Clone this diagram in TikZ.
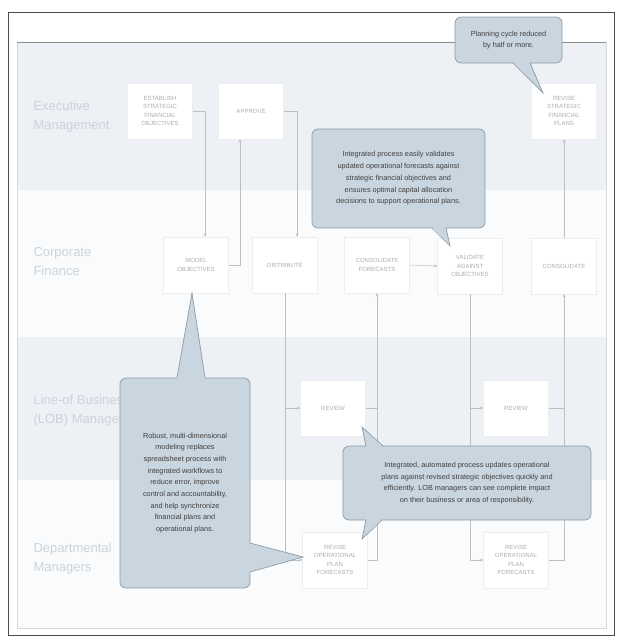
\documentclass[tikz,border=0pt]{standalone}
\usepackage{fontspec}
\setmainfont{Liberation Sans}
\usetikzlibrary{arrows.meta, positioning}
\definecolor{boblefarge}{HTML}{C9D5DF}
\definecolor{bobleramme}{HTML}{8C9BA6}
\definecolor{feltblaa}{HTML}{EDF0F5}
\definecolor{felthvit}{HTML}{FAFBFC}
\definecolor{feltskrift}{HTML}{CDD3DA}

\begin{document}
\begin{tikzpicture}[
    x=1pt, y=-1pt,
    punkt/.style = {rectangle, fill=white, draw=black!7, minimum width=65pt,
                    minimum height=56pt, inner sep=1pt, align=center,
                    text=black!32, font=\fontsize{6}{8.6}\selectfont},
    linje/.style = {draw=black!25, line width=0.5pt},
    pil/.style = {linje, -{Stealth[length=3.5pt, width=3pt]}},
    boble/.style = {rectangle, rounded corners=6pt, fill=boblefarge,
                    draw=bobleramme, line width=0.7pt, align=center,
                    text=black!75, inner sep=0pt,
                    font=\fontsize{7.3}{11.7}\selectfont},
    hale/.style = {draw=bobleramme, line width=0.7pt},
    felt/.style = {anchor=west, align=left, text=feltskrift,
                   font=\fontsize{13}{19}\selectfont}
    ]
  \useasboundingbox (0,0) rectangle (617,637);

  % lanes
  \fill[felthvit] (17,42) rectangle (606,628);
  \fill[feltblaa] (17,42) rectangle (606,190);
  \fill[feltblaa] (17,337) rectangle (606,480);
  \draw[black!15] (17,42) rectangle (606,628);
  \draw[black!45, line width=0.8pt] (17,42) -- (606,42);
  \draw[black!70, line width=1pt] (8,12) rectangle (614,635);

  \node[felt] (exec) at (30,117) {Executive\\Management} ;
  \node[felt] (corp) at (30,262) {Corporate\\Finance} ;
  \node[felt] (lob)  at (30,411) {Line-of Business\\(LOB) Managers} ;
  \node[felt] (dept) at (30,559) {Departmental\\Managers} ;

  % steps
  \node[punkt] (establish) at (160,111) {ESTABLISH\\STRATEGIC\\FINANCIAL\\OBJECTIVES} ;
  \node[punkt] (approve) at (251,111) {APPROVE} ;
  \node[punkt] (revise) at (564,111) {REVISE\\STRATEGIC\\FINANCIAL\\PLANS} ;

  \node[punkt] (model) at (196,265) {MODEL\\OBJECTIVES} ;
  \node[punkt] (distribute) at (285,265) {DISTRIBUTE} ;
  \node[punkt] (consolf) at (377,265) {CONSOLIDATE\\FORECASTS} ;
  \node[punkt] (validate) at (470,266) {VALIDATE\\AGAINST\\OBJECTIVES} ;
  \node[punkt] (consolidate) at (564,266) {CONSOLIDATE} ;

  \node[punkt] (review1) at (333,408) {REVIEW} ;
  \node[punkt] (review2) at (516,408) {REVIEW} ;

  \node[punkt] (rop1) at (335,560) {REVISE\\OPERATIONAL\\PLAN\\FORECASTS} ;
  \node[punkt] (rop2) at (516,560) {REVISE\\OPERATIONAL\\PLAN\\FORECASTS} ;

  \draw[pil] (establish.east) -| ([xshift=9pt]model.north) ;
  \draw[pil] (model.east) -| ([xshift=-11pt]approve.south) ;
  \draw[pil] (approve.east) -| ([xshift=12pt]distribute.north) ;
  \draw[pil] (distribute.south) |- (rop1.west) ;
  \draw[pil] (rop1.east) -| (consolf.south) ;
  \draw[pil] (review1.west -| distribute.south) -- (review1.west) ;
  \draw[linje] (review1.east) -- (review1.east -| consolf.south) ;
  \draw[pil] (consolf.east) -- (validate.west) ;
  \draw[pil] (validate.south) |- (rop2.west) ;
  \draw[pil] (rop2.east) -| (consolidate.south) ;
  \draw[pil] (review2.west -| validate.south) -- (review2.west) ;
  \draw[linje] (review2.east) -- (review2.east -| consolidate.south) ;
  \draw[pil] (consolidate.north) -- (revise.south) ;

  % callouts
  \node[boble, minimum width=107pt, minimum height=46pt] (b1) at (508.5,40)
    {Planning cycle reduced\\by half or more.} ;
  \fill[boblefarge] (513,61.5) -- (543,93) -- (530,61.5) -- cycle;
  \draw[hale] (513,63) -- (543,93) -- (530,63) ;

  \node[boble, minimum width=173pt, minimum height=99pt] (b2) at (398.5,178.5)
    {Integrated process easily validates\\updated operational forecasts against\\
     strategic financial objectives and\\ensures optimal capital allocation\\
     decisions to support operational plans.} ;
  \fill[boblefarge] (432,226.5) -- (450,246) -- (446,226.5) -- cycle;
  \draw[hale] (432,228) -- (450,246) -- (446,228) ;

  \node[boble, minimum width=130pt, minimum height=210pt] (b3) at (185,483)
    {Robust, multi-dimensional\\modeling replaces\\spreadsheet process with\\
     integrated workflows to\\reduce error, improve\\control and accountability,\\
     and help synchronize\\financial plans and\\operational plans.} ;
  \fill[boblefarge] (177,379.5) -- (192,293) -- (205,379.5) -- cycle;
  \draw[hale] (177,378) -- (192,293) -- (205,378) ;
  \fill[boblefarge] (248.5,543) -- (303,557) -- (248.5,572) -- cycle;
  \draw[hale] (250,543) -- (303,557) -- (250,572) ;

  \node[boble, minimum width=248pt, minimum height=74pt] (b4) at (467,483)
    {Integrated, automated process updates operational\\
     plans against revised strategic objectives quickly and\\
     efficiently. LOB managers can see complete impact\\
     on their business or area of responsibility.} ;
  \fill[boblefarge] (366,447.5) -- (362,427) -- (383,447.5) -- cycle;
  \draw[hale] (366,446) -- (362,427) -- (383,446) ;
  \fill[boblefarge] (366,518.5) -- (362,539) -- (382,518.5) -- cycle;
  \draw[hale] (366,520) -- (362,539) -- (382,520) ;
\end{tikzpicture}
\end{document}
